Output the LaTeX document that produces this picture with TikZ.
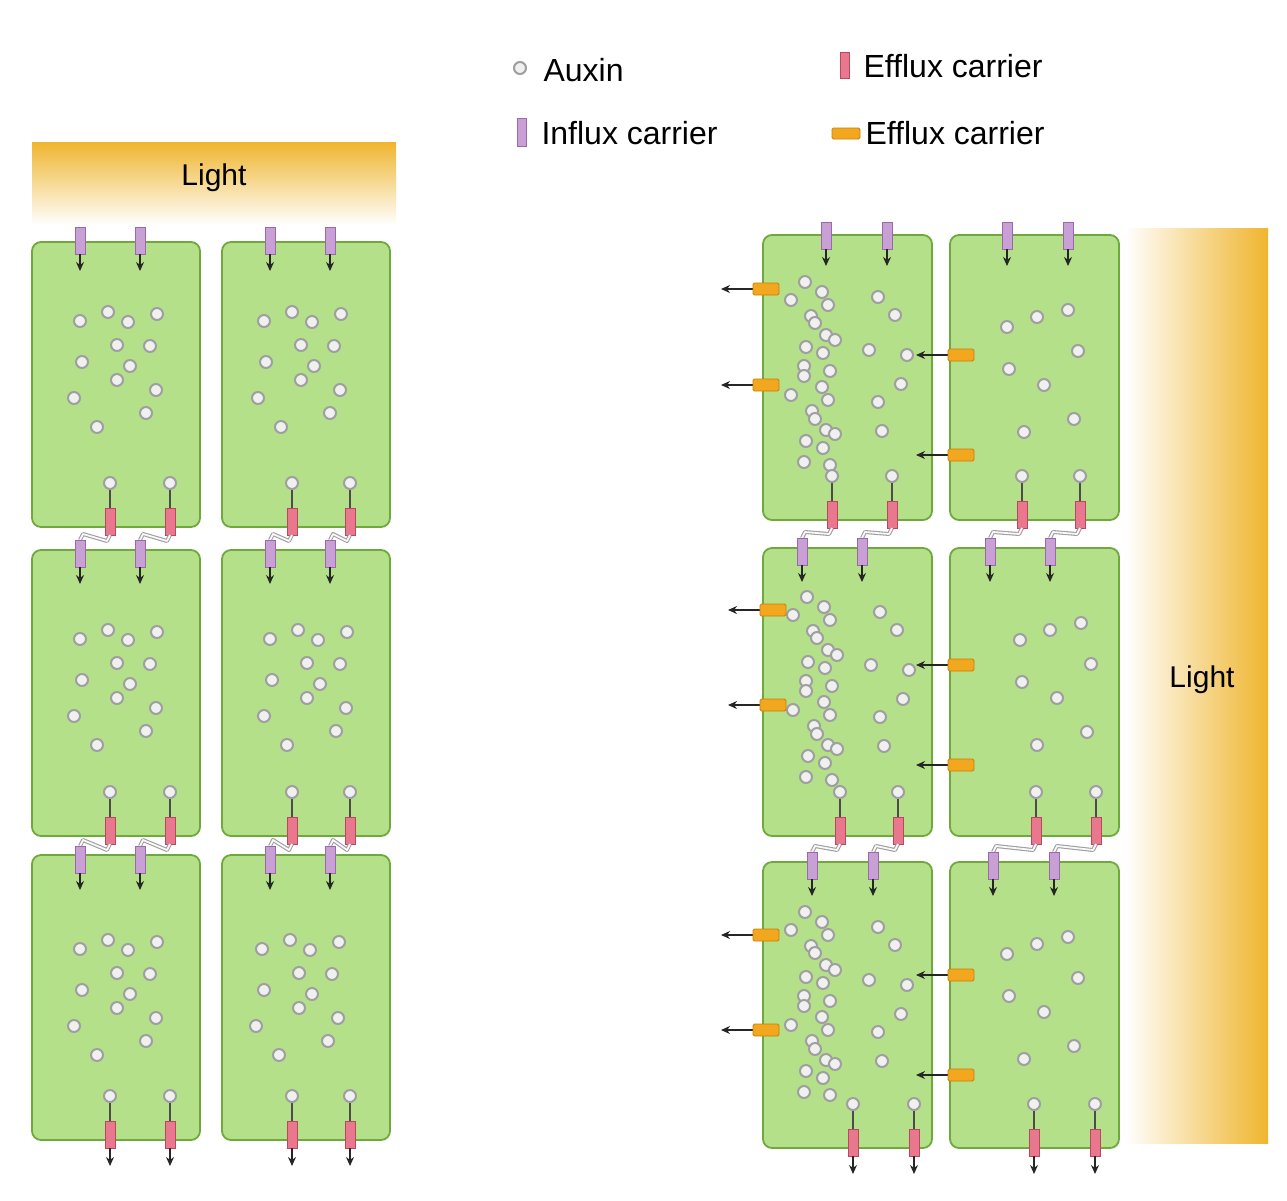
\documentclass[tikz,border=0pt]{standalone}
\usepackage{fontspec}
\setmainfont{Liberation Sans}
\usetikzlibrary{arrows.meta}
\definecolor{cellg}{HTML}{B5E08A}
\definecolor{cellb}{HTML}{6FA83C}
\definecolor{purp}{HTML}{C9A0D6}
\definecolor{purpb}{HTML}{9A6AA8}
\definecolor{pinkc}{HTML}{E9788F}
\definecolor{pinkb}{HTML}{B8485E}
\definecolor{orng}{HTML}{F2A71E}
\definecolor{orngb}{HTML}{C97F0A}
\definecolor{lightc}{HTML}{EFB52E}
\tikzset{
 cellbox/.style={fill=cellg,draw=cellb,line width=1.8pt,rounded corners=9pt},
 aux/.style={circle,draw=gray!75,fill=gray!12,line width=2pt,inner sep=0pt,minimum size=12pt},
 inbox/.style={fill=purp,draw=purpb,line width=0.8pt},
 effbox/.style={fill=pinkc,draw=pinkb,line width=0.8pt},
 latbox/.style={fill=orng,draw=orngb,line width=0.8pt},
 arr/.style={-{Stealth[length=9pt,width=8pt]},black!85,line width=1.3pt},
 wav/.style={gray!75,line width=4pt},
 wavin/.style={white!90!purp,line width=1.8pt}
}
\newcommand{\influx}[2]{\draw[inbox] (#1-5,#2-14) rectangle (#1+5,#2+13);
 \draw[arr] (#1,#2+13) -- (#1,#2+30);}
\newcommand{\efflux}[2]{% #2 = cell bottom
 \draw[gray!60!black,line width=1.5pt] (#1,#2-38) -- (#1,#2-19);
 \node[aux] at (#1,#2-44) {};
 \draw[effbox] (#1-5,#2-19) rectangle (#1+5,#2+8);}
\newcommand{\effout}[2]{\efflux{#1}{#2}\draw[arr] (#1,#2+8) -- (#1,#2+26);}
\newcommand{\wave}[4]{% from (#1,#2) to (#3,#4)
 \foreach \s in {wav,wavin}{\draw[\s,line join=round] (#1,#2+8) -- (#1-3,#2+14) -- (#3+3,#4-20) -- (#3,#4-14);}}
\newcommand{\latl}[2]{\draw[arr] (#1,#2) -- (#1-32,#2);
 \draw[latbox,rounded corners=1.5pt] (#1,#2-6) rectangle (#1+26,#2+6);}
\newcommand{\dotsL}[2]{\foreach \a/\b in {48/79,76/70,96/80,125/72,85/103,118/104,50/120,98/124,85/138,124/148,42/156,114/171,65/185}{\node[aux] at (#1+\a,#2+\b) {};}}
\newcommand{\dotsR}[2]{\foreach \a/\b in {42/47,28/65,59/57,65/70,48/81,52/88,63/100,72/105,43/112,60/118,41/131,41/141,67/136,59/152,28/160,65/165,49/176,52/184,63/195,72/199,43/206,60/213,41/227,67/230,115/62,132/80,106/115,144/120,138/149,115/167,119/196}{\node[aux] at (#1+\a,#2+\b) {};}}
\newcommand{\dotsS}[2]{\foreach \a/\b in {57/92,87/82,118/75,128/116,59/134,94/150,124/184,74/197}{\node[aux] at (#1+\a,#2+\b) {};}}
\begin{document}
\begin{tikzpicture}[x=1pt,y=-1pt]
\useasboundingbox (0,0) rectangle (1287,1200);
\fill[white] (0,0) rectangle (1287,1200);
% light bars
\shade[top color=lightc,bottom color=white] (32,142) rectangle (396,225);
\node at (214,178) {\fontsize{30}{34}\selectfont Light};
\shade[left color=white,right color=lightc] (1125,228) rectangle (1268,1143);
\node at (1202,680) {\fontsize{30}{34}\selectfont Light};
% legend
\node[aux] at (520,68) {};
\node[anchor=west] at (540,70) {\fontsize{32}{36}\selectfont Auxin};
\draw[inbox] (517,118) rectangle (526,146);
\node[anchor=west] at (538,133) {\fontsize{32}{36}\selectfont Influx carrier};
\draw[effbox] (840,52) rectangle (849,78);
\node[anchor=west] at (860,66) {\fontsize{32}{36}\selectfont Efflux carrier};
\draw[latbox,rounded corners=1.5pt] (832,128) rectangle (860,139);
\node[anchor=west] at (862,133) {\fontsize{32}{36}\selectfont Efflux carrier};
% left cells
\foreach \x in {32,222}{\foreach \y/\h in {242/285,550/286,855/285}{
  \draw[cellbox] (\x,\y) rectangle (\x+168,\y+\h);}}
\dotsL{32}{242}\dotsL{216}{242}
\dotsL{32}{560}\dotsL{222}{560}
\dotsL{32}{870}\dotsL{214}{870}
\foreach \x/\e in {80/110,140/170,270/292,330/350}{
  \influx{\x}{241}
  \efflux{\e}{527}\wave{\e}{527}{\x}{554}\influx{\x}{554}
  \efflux{\e}{836}\wave{\e}{836}{\x}{860}\influx{\x}{860}
  \effout{\e}{1140}}
% right cells
\foreach \x in {763,950}{\foreach \y/\h in {235/285,548/288,862/286}{
  \draw[cellbox] (\x,\y) rectangle (\x+169,\y+\h);}}
\dotsR{763}{235}\dotsR{765}{550}\dotsR{763}{865}
\dotsS{950}{235}\dotsS{963}{548}\dotsS{950}{862}
\foreach \x/\e/\xb/\eb in {826/832/802/840,887/892/862/898,1007/1022/990/1036,1068/1080/1050/1096}{
  \influx{\x}{236}
  \efflux{\e}{520}\wave{\e}{520}{\xb}{552}\influx{\xb}{552}
  \efflux{\eb}{836}\wave{\eb}{836}{\x-14}{866}\influx{\x-14}{866}
  \effout{\x+27}{1148}}
\foreach \y in {289,385}{\latl{753}{\y}}
\foreach \y in {610,705}{\latl{760}{\y}}
\foreach \y in {935,1030}{\latl{753}{\y}}
\foreach \y in {355,455,665,765,975,1075}{\latl{948}{\y}}
\end{tikzpicture}
\end{document}
